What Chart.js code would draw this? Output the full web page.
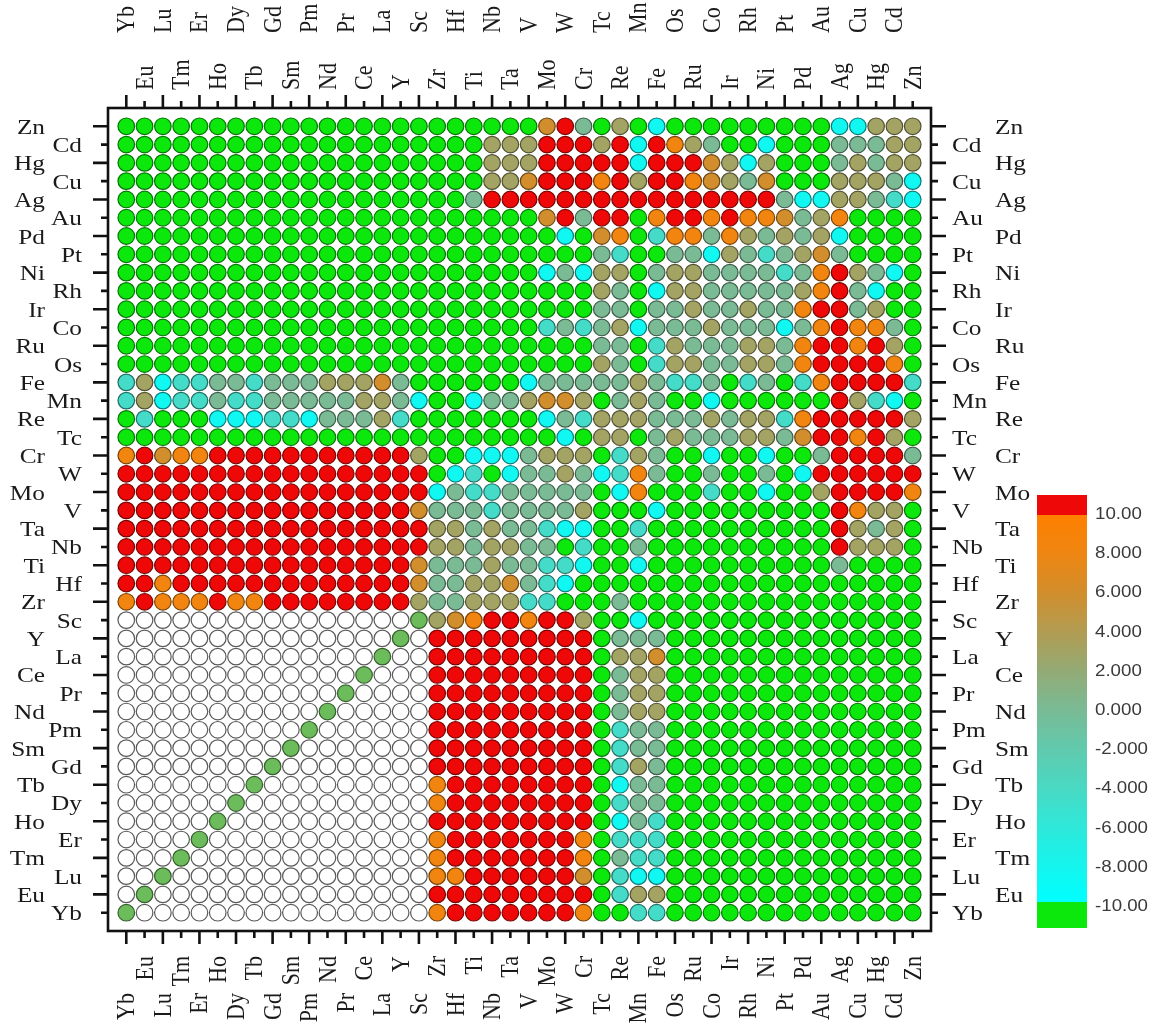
<!DOCTYPE html>
<html>
<head>
<meta charset="utf-8">
<script src="https://cdn.jsdelivr.net/npm/chart.js@4.4.1/dist/chart.umd.min.js"></script>
<style>
  html, body { margin: 0; background: #fff; }
  canvas { display: block; }
</style>
</head>
<body>
<canvas id="matrix" width="1161" height="1028"></canvas>
<script>
// element order along x (left to right) and along y (bottom to top)
const elements = ["Yb","Eu","Lu","Tm","Er","Ho","Dy","Tb","Gd","Sm","Pm","Nd","Pr","Ce","La","Y","Sc",
  "Zr","Hf","Ti","Nb","Ta","V","Mo","W","Cr",
  "Tc","Re","Mn","Fe",
  "Os","Ru","Co","Ir","Rh","Ni","Pt","Pd","Au",
  "Ag","Cu","Hg","Cd","Zn"];

// value level of each cell code
// G below -10, C ~-8.5, T ~-4.5, S ~0, K ~3, B ~6, O ~8.3, R above 10
const cellValues = { G: -11, C: -8.5, T: -4.5, S: 0, K: 3, B: 6, O: 8.3, R: 11 };
// W = empty cell, D = diagonal cell of the lower block

// rows from top (Zn) to bottom (Yb); groups: Yb..Sc | Zr..Cr | Tc..Fe | Os..Au | Ag..Zn
const rowCodes = [
  "GGGGGGGGGGGGGGGGG GGGGGGBRS GKGC GGGGGGGGG CCKKK", // Zn
  "GGGGGGGGGGGGGGGGG GGGKKKRRR KRCR OKSGGCGGG SSSKK", // Cd
  "GGGGGGGGGGGGGGGGG GGGKKKRRR RRCR RRBKCKGGG SKSKK", // Hg
  "GGGGGGGGGGGGGGGGG GGGKKBRRR ORKR ROBKSBGGG KKKSC", // Cu
  "GGGGGGGGGGGGGGGGG GGSRRRRRR RRRR RRRRRRSCC KKSTC", // Ag
  "GGGGGGGGGGGGGGGGG GGGGGGBRS RRGO RROROOBSK OGGGG", // Au
  "GGGGGGGGGGGGGGGGG GGGGGGGCG BOGT OOSOKSKSK CGGGG", // Pd
  "GGGGGGGGGGGGGGGGG GGGGGGGGG STGG SSCKSTSKB SGGGG", // Pt
  "GGGGGGGGGGGGGGGGG GGGGGGCSC KKGS KKSSSSTSO RKSCG", // Ni
  "GGGGGGGGGGGGGGGGG GGGGGGGGG KSGC KKSSSSSKO RSCGG", // Rh
  "GGGGGGGGGGGGGGGGG GGGGGGGGG SSGS SKSSKSSOR RSKGG", // Ir
  "GGGGGGGGGGGGGGGGG GGGGGGTST SKCS SSKSSSCSO ROOSG", // Co
  "GGGGGGGGGGGGGGGGG GGGGGGGGG SSGT KSSSKKSOR RORKG", // Ru
  "GGGGGGGGGGGGGGGGG GGGGGGGGG KSGT KKSSKKSOR RRROG", // Os
  "TKCTTSSTSSSKKKBSG GGGGGCSSS SSKS TTSGTSGTO RRRRT", // Fe
  "TKCTTSTTSSSSSKKSC GGCSSKBBK GSKS GGCGGGGGG RKTCG", // Mn
  "GTGGGCCCTTCSSSKTG GGGGGGCST KKKS SSKSKKTOR RRRRK", // Re
  "GGGGGGGGGGGGGGGGG GGGGGGGCG KKGS KSSSKKSBR RORKG", // Tc
  "ORBOORRRRRRRRRRRK GGCCCSKKK GTKS GGCGGCGGS RRRRS", // Cr
  "RRRRRRRRRRRRRRRRR GCTGCSSKS CTOS GGSGGSGCR RRRRR", // W
  "RRRRRRRRRRRRRRRRR CSTTSSSSS GCOG GGTGGCGGK RRRRO", // Mo
  "RRRRRRRRRRRRRRRRB SSSTSSSSK GGGC GGGGGGGGG ROKKG", // V
  "RRRRRRRRRRRRRRRRR KKSKSSTCC GGTG GGGGGGGGG RKSKG", // Ta
  "RRRRRRRRRRRRRRRRR KKSKKSSGT GGSG GGGGGGGGG RKKKG", // Nb
  "RRRRRRRRRRRRRRRRB SSSKSSTTC GGCG GGGGGGGGG SGGGG", // Ti
  "RRORRRRRRRRRRRRRB SSKKBSTCG GGGG GGGGGGGGG GGGGG", // Hf
  "OROOOROORRRRRRRRK SSKKKTTGG GSGG GGGGGGGGG GGGGG", // Zr
  "WWWWWWWWWWWWWWWWD KBORRORRK GGCG GGGGGGGGG GGGGG", // Sc
  "WWWWWWWWWWWWWWWDW RRRRRRRRR GSSS GGGGGGGGG GGGGG", // Y
  "WWWWWWWWWWWWWWDWW RRRRRRRRR GKKB GGGGGGGGG GGGGG", // La
  "WWWWWWWWWWWWWDWWW RRRRRRRRR GSKK GGGGGGGGG GGGGG", // Ce
  "WWWWWWWWWWWWDWWWW RRRRRRRRR GSKK GGGGGGGGG GGGGG", // Pr
  "WWWWWWWWWWWDWWWWW RRRRRRRRR GSKK GGGGGGGGG GGGGG", // Nd
  "WWWWWWWWWWDWWWWWW RRRRRRRRR GTSS GGGGGGGGG GGGGG", // Pm
  "WWWWWWWWWDWWWWWWW RRRRRRRRR GTSS GGGGGGGGG GGGGG", // Sm
  "WWWWWWWWDWWWWWWWW RRRRRRRRR GTKS GGGGGGGGG GGGGG", // Gd
  "WWWWWWWDWWWWWWWWW ORRRRRRRR GCSS GGGGGGGGG GGGGG", // Tb
  "WWWWWWDWWWWWWWWWW ORRRRRRRR GTSS GGGGGGGGG GGGGG", // Dy
  "WWWWWDWWWWWWWWWWW RRRRRRRRR GCST GGGGGGGGG GGGGG", // Ho
  "WWWWDWWWWWWWWWWWW ORRRRRRRO GTTT GGGGGGGGG GGGGG", // Er
  "WWWDWWWWWWWWWWWWW ORRRRRRRO GSTT GGGGGGGGG GGGGG", // Tm
  "WWDWWWWWWWWWWWWWW OORRRRRRB GTCC GGGGGGGGG GGGGG", // Lu
  "WDWWWWWWWWWWWWWWW RRRRRRRRR GTKK GGGGGGGGG GGGGG", // Eu
  "DWWWWWWWWWWWWWWWW ORRRRRRRO GGTT GGGGGGGGG GGGGG"  // Yb
];

// colour bar ticks
const barTicks = [10, 8, 6, 4, 2, 0, -2, -4, -6, -8, -10];
const barTickLabels = ["10.00", "8.000", "6.000", "4.000", "2.000", "0.000",
  "-2.000", "-4.000", "-6.000", "-8.000", "-10.00"];

// colour ramp of the bar (value -> rgb)
const ramp = [
  [10, [255, 128, 0]],
  [8, [238, 134, 18]],
  [6, [210, 142, 44]],
  [4, [178, 156, 82]],
  [2, [148, 170, 116]],
  [0, [122, 186, 148]],
  [-2, [98, 201, 172]],
  [-4, [74, 216, 194]],
  [-6, [48, 231, 216]],
  [-8, [22, 244, 236]],
  [-10, [0, 255, 255]]
];
const overColor = [238, 8, 8];
const underColor = [12, 232, 12];
const diagColor = [108, 188, 92];

function rampColor(v) {
  if (v > 10) return overColor;
  if (v < -10) return underColor;
  for (let k = 0; k < ramp.length - 1; k++) {
    const [v0, c0] = ramp[k], [v1, c1] = ramp[k + 1];
    if (v <= v0 && v >= v1) {
      const t = (v0 - v) / (v0 - v1);
      return c0.map((c, n) => Math.round(c + (c1[n] - c) * t));
    }
  }
  return underColor;
}
const rgb = c => "rgb(" + c.join(",") + ")";

function fillOf(p) {
  if (!p || p.code === "W") return "#ffffff";
  if (p.code === "D") return rgb(diagColor);
  return rgb(rampColor(p.v));
}
function edgeOf(p) {
  if (!p || p.code === "W") return "#5a5a5a";
  const c = p.code === "D" ? diagColor : rampColor(p.v);
  return rgb(c.map(x => Math.round(x * 0.5)));
}

// build the points
const n = elements.length;
const points = [];
rowCodes.forEach((row, j) => {
  const codes = row.replace(/ /g, "");
  if (codes.length !== n) throw new Error("row " + j + " has " + codes.length + " cells");
  for (let i = 0; i < n; i++) {
    points.push({ x: i, y: n - 1 - j, code: codes[i], v: cellValues[codes[i]] });
  }
});

// frame, ticks, staggered labels and colour bar
const framePlugin = {
  id: "frame",
  afterDatasetsDraw(chart) {
    const g = chart.ctx, a = chart.chartArea;
    const xs = chart.scales.x, ys = chart.scales.y;
    g.save();
    g.strokeStyle = "#111";
    g.lineWidth = 2.6;
    g.strokeRect(a.left, a.top, a.right - a.left, a.bottom - a.top);
    g.beginPath();
    for (let i = 0; i < n; i++) {
      const px = xs.getPixelForValue(i), len = i % 2 ? 7 : 13;
      g.moveTo(px, a.top); g.lineTo(px, a.top - len);
      g.moveTo(px, a.bottom); g.lineTo(px, a.bottom + len);
    }
    for (let j = 0; j < n; j++) {
      const py = ys.getPixelForValue(n - 1 - j), len = j % 2 ? 7 : 15;
      g.moveTo(a.left, py); g.lineTo(a.left - len, py);
      g.moveTo(a.right, py); g.lineTo(a.right + len, py);
    }
    g.stroke();

    const put = (text, x, y, rot, align, sx, dy) => {
      g.save();
      g.translate(x, y);
      g.scale(sx, 1);
      g.rotate(rot);
      g.textAlign = align;
      g.textBaseline = "alphabetic";
      g.fillText(text, 0, dy);
      g.restore();
    };

    g.fillStyle = "#1a1a1a";
    g.font = "22px 'Liberation Serif', 'Times New Roman', serif";
    for (let i = 0; i < n; i++) {
      const px = xs.getPixelForValue(i);
      put(elements[i], px, i % 2 ? a.top - 18 : a.top - 75, -Math.PI / 2, "left", 1.15, 7);
      put(elements[i], px, i % 2 ? a.bottom + 25 : a.bottom + 62, -Math.PI / 2, "right", 1.15, 7);
    }
    for (let j = 0; j < n; j++) {
      const py = ys.getPixelForValue(n - 1 - j), name = elements[n - 1 - j];
      put(name, j % 2 ? a.left - 26 : a.left - 63, py, 0, "right", 1.15, 7.5);
      put(name, j % 2 ? a.right + 21 : a.right + 64, py, 0, "left", 1.15, 7.5);
    }

    // colour bar
    const bx = 1037, bw = 50, yTop = 495, yHi = 515, yLo = 902, yBot = 928;
    const grad = g.createLinearGradient(0, yHi, 0, yLo);
    ramp.forEach(([v, c]) => grad.addColorStop((10 - v) / 20, rgb(c)));
    g.fillStyle = rgb(overColor);
    g.fillRect(bx, yTop, bw, yHi - yTop);
    g.fillStyle = grad;
    g.fillRect(bx, yHi, bw, yLo - yHi);
    g.fillStyle = rgb(underColor);
    g.fillRect(bx, yLo, bw, yBot - yLo);

    g.fillStyle = "#3a3a3a";
    g.font = "17px 'Liberation Sans', Arial, sans-serif";
    barTicks.forEach((v, k) => {
      const y = 513 + (10 - v) / 20 * (905 - 513);
      put(barTickLabels[k], 1095, y, 0, "left", 1.1, 6);
    });
    g.restore();
  }
};

new Chart(document.getElementById("matrix").getContext("2d"), {
  type: "scatter",
  data: {
    datasets: [{
      data: points,
      pointStyle: "circle",
      pointRadius: 8.3,
      pointHoverRadius: 8.3,
      borderWidth: 1.2,
      backgroundColor: c => fillOf(c.raw),
      borderColor: c => edgeOf(c.raw)
    }]
  },
  options: {
    responsive: false,
    animation: false,
    events: [],
    layout: { padding: { left: 108, top: 108, right: 230, bottom: 97 } },
    plugins: { legend: { display: false }, tooltip: { enabled: false } },
    scales: {
      x: { type: "linear", min: -1, max: n, display: false },
      y: { type: "linear", min: -1, max: n, display: false }
    }
  },
  plugins: [framePlugin]
});
</script>
</body>
</html>
